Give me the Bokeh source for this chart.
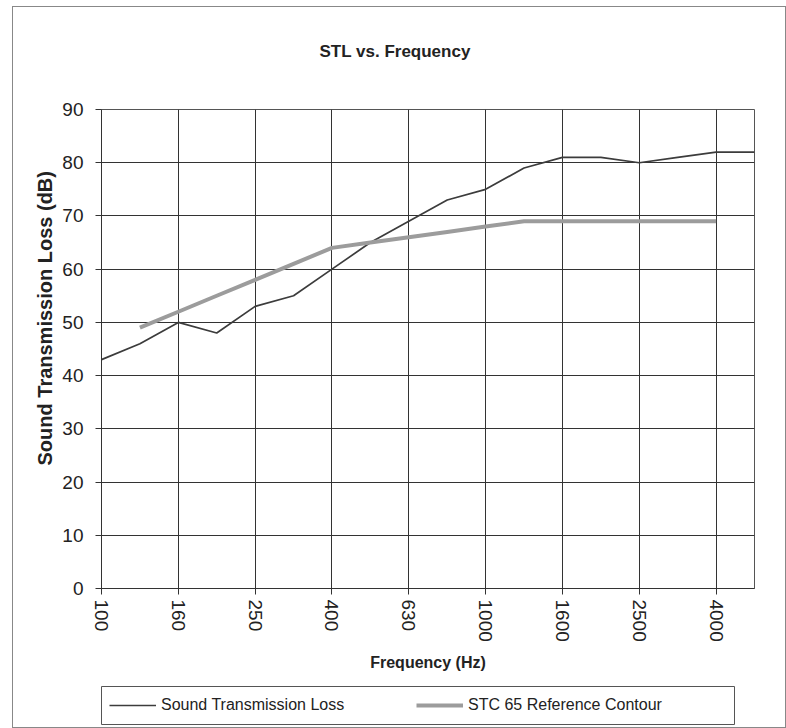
from math import pi
from bokeh.plotting import figure
from bokeh.layouts import column
from bokeh.models import Range1d, FixedTicker, Legend, LegendItem, Title
from bokeh.embed import file_html
from bokeh.resources import INLINE

# ---- data ----
freq_labels = ["100", "125", "160", "200", "250", "315", "400", "500", "630",
               "800", "1000", "1250", "1600", "2000", "2500", "3150", "4000", "5000"]
stl_values = [43, 46, 50, 48, 53, 55, 60, 65, 69, 73, 75, 79, 81, 81, 80, 81, 82, 82]
stc_freq_labels = ["125", "160", "200", "250", "315", "400", "500", "630", "800",
                   "1000", "1250", "1600", "2000", "2500", "3150", "4000"]
stc_values = [49, 52, 55, 58, 61, 64, 65, 66, 67, 68, 69, 69, 69, 69, 69, 69]
tick_labels = ["100", "160", "250", "400", "630", "1000", "1600", "2500", "4000"]
y_ticks = [0, 10, 20, 30, 40, 50, 60, 70, 80, 90]

x_stl = [freq_labels.index(f) for f in freq_labels]
x_stc = [freq_labels.index(f) for f in stc_freq_labels]
x_ticks = [freq_labels.index(t) for t in tick_labels]

FONT = "Liberation Sans"
STL_COLOR, STL_WIDTH = "#3c3c3c", 1.7
STC_COLOR, STC_WIDTH = "#9c9c9c", 4

p = figure(frame_width=653, frame_height=479, output_backend="svg", toolbar_location=None,
           x_range=Range1d(0, len(freq_labels) - 1), y_range=Range1d(0, 90),
           min_border_left=88, min_border_right=31, min_border_top=102,
           min_border_bottom=85)

# spacer between frame and title, then the title itself
p.add_layout(Title(text=" ", text_font_size="38px", standoff=0), "above")
p.title.text = "STL vs. Frequency"
p.title.text_font = FONT
p.title.text_font_size = "17px"
p.title.text_font_style = "bold"
p.title.text_color = "#222"
p.title.align = "left"
p.title.offset = 218

# y-axis title (placed as a side title so it can be shifted)
p.add_layout(Title(text="Sound Transmission Loss (dB)", text_font=FONT,
                   text_font_size="20px", text_font_style="bold", text_color="#222",
                   align="left", offset=123, standoff=8), "left")

# axes
xa = p.xaxis[0]
xa.ticker = FixedTicker(ticks=x_ticks)
xa.major_label_overrides = {i: freq_labels[i] for i in x_ticks}
xa.major_label_orientation = -pi / 2
xa.axis_label = "Frequency (Hz)"
ya = p.yaxis[0]
ya.ticker = FixedTicker(ticks=y_ticks)
for ax in (xa, ya):
    ax.major_label_text_font = FONT
    ax.major_label_text_font_size = "19px"
    ax.major_label_text_color = "#222"
    ax.axis_label_text_font = FONT
    ax.axis_label_text_font_style = "bold"
    ax.axis_label_text_color = "#222"
    ax.axis_line_color = "#333"
    ax.major_tick_line_color = "#333"
    ax.major_tick_out = 6
    ax.major_tick_in = 0
    ax.minor_tick_line_color = None
xa.axis_label_text_font_size = "16px"
xa.major_label_standoff = 5
xa.axis_label_standoff = 9
ya.major_label_standoff = 12

p.xgrid.ticker = FixedTicker(ticks=x_ticks)
p.ygrid.ticker = FixedTicker(ticks=y_ticks)
for g in (p.xgrid, p.ygrid):
    g.grid_line_color = "#333"
    g.grid_line_width = 1
    g.grid_line_alpha = 1
p.outline_line_color = "#555"
p.outline_line_width = 1
p.background_fill_color = "white"
p.border_fill_color = "white"

p.line(x_stl, stl_values, line_color=STL_COLOR, line_width=STL_WIDTH)
p.line(x_stc, stc_values, line_color=STC_COLOR, line_width=STC_WIDTH)

# ---- legend strip: its frame is the legend box ----
lg = figure(frame_width=633, frame_height=38, output_backend="svg", toolbar_location=None,
            x_range=Range1d(0, 1), y_range=Range1d(0, 1),
            x_axis_location=None, y_axis_location=None,
            min_border_left=88, min_border_right=51, min_border_top=13,
            min_border_bottom=3)
lg.grid.visible = False
lg.outline_line_color = "#555"
lg.outline_line_width = 1
lg.border_fill_color = "white"
lg.background_fill_color = "white"
# same series drawn here only to feed the legend (they fall outside this strip's ranges)
l_stl = lg.line(x_stl, stl_values, line_color=STL_COLOR, line_width=STL_WIDTH)
l_stc = lg.line(x_stc, stc_values, line_color=STC_COLOR, line_width=STC_WIDTH)

legend = Legend(items=[LegendItem(label="Sound Transmission Loss", renderers=[l_stl]),
                       LegendItem(label="STC 65 Reference Contour", renderers=[l_stc])],
                orientation="horizontal", location=(8, 9),
                label_text_font=FONT, label_text_font_size="16px", label_text_color="#222",
                glyph_width=47, glyph_height=20, label_height=20, label_standoff=5,
                label_width=200, spacing=55, padding=0,
                border_line_color=None, background_fill_alpha=0, margin=0)
lg.add_layout(legend, "center")

layout = column(p, lg, spacing=0,
                styles={"border": "1px solid #888", "margin-left": "12px",
                        "margin-top": "6px"})

open("out.html", "w").write(file_html(layout, INLINE))
